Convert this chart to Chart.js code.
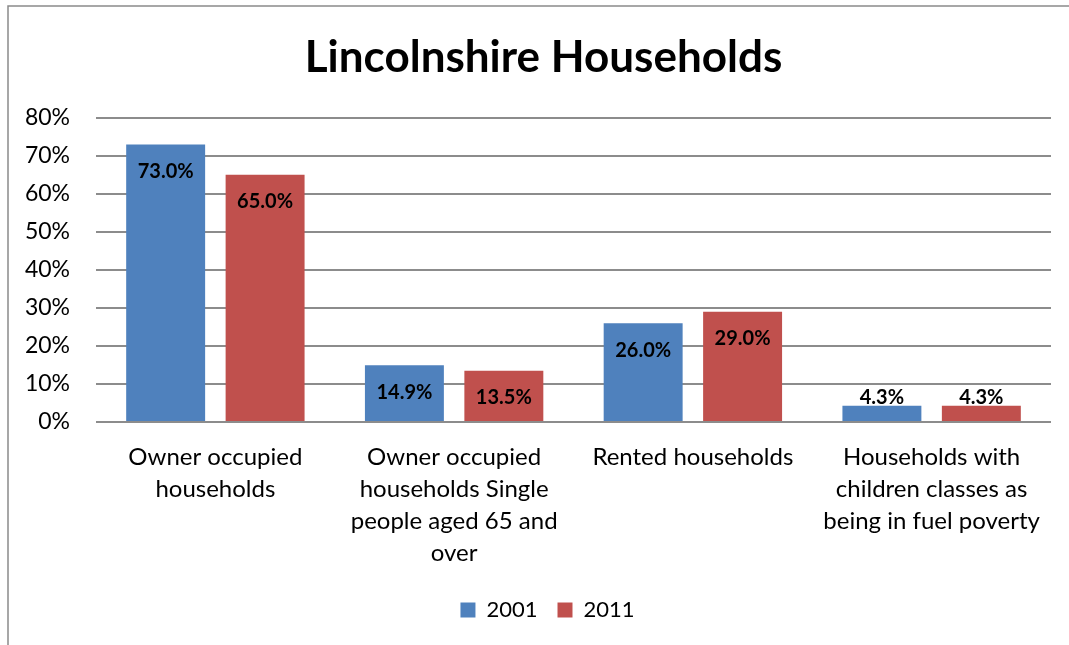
<!DOCTYPE html>
<html>
<head>
<meta charset="utf-8">
<script src="https://cdn.jsdelivr.net/npm/chart.js@4.4.1/dist/chart.umd.min.js"></script>
<style>
  body { margin: 0; background: #fff; }
  #wrap { position: relative; width: 1069px; height: 645px; }
</style>
</head>
<body>
<div id="wrap"><canvas id="myChart"></canvas></div>
<script>
// data
const categories = [
    ["Owner occupied", "households"],
    ["Owner occupied", "households Single", "people aged 65 and", "over"],
    ["Rented households"],
    ["Households with", "children classes as", "being in fuel poverty"]
]
const seriesNames = ["2001", "2011"]
const values2001 = [73.0, 14.9, 26.0, 4.3]
const values2011 = [65.0, 13.5, 29.0, 4.3]
const yTicks = [0, 10, 20, 30, 40, 50, 60, 70, 80]

const FONT = "Lato, 'Open Sans', sans-serif"

// frame round the chart (left and top edges only visible)
const framePlugin = {
    id: 'frame',
    afterLayout(chart) {
        // title and legend sit a little right of the canvas centre
        if (chart.titleBlock) chart.titleBlock.left = 36
        if (chart.legend) chart.legend.left = 44
    },
    beforeDraw(chart) {
        let ctx = chart.ctx
        ctx.save()
        ctx.strokeStyle = '#8a8a8a'
        ctx.lineWidth = 1.5
        ctx.beginPath()
        ctx.moveTo(8, chart.height)
        ctx.lineTo(8, 6)
        ctx.lineTo(chart.width, 6)
        ctx.stroke()
        ctx.restore()
    }
}

// value labels, inside the top of the bar or just above when the bar is short
const valueLabels = {
    id: 'valueLabels',
    afterDatasetsDraw(chart) {
        let ctx = chart.ctx
        ctx.save()
        ctx.font = "bold 20px " + FONT
        ctx.fillStyle = '#000'
        ctx.textAlign = 'center'
        ctx.textBaseline = 'middle'
        chart.data.datasets.forEach((ds, i) => {
            let meta = chart.getDatasetMeta(i)
            meta.data.forEach((bar, j) => {
                let txt = ds.data[j].toFixed(1) + '%'
                let h = bar.base - bar.y
                let y = h > 40 ? bar.y + 27 : bar.y - 8
                ctx.fillText(txt, bar.x, y)
            })
        })
        ctx.restore()
    }
}

const ctx = document.getElementById('myChart')
const myChart = new Chart(ctx, {
    type: 'bar',
    data: {
        labels: categories,
        datasets: [
            { label: seriesNames[0], data: values2001, backgroundColor: '#4F81BD' },
            { label: seriesNames[1], data: values2011, backgroundColor: '#C0504D' }
        ]
    },
    options: {
        responsive: true,
        maintainAspectRatio: false,
        animation: false,
        categoryPercentage: 0.833,
        barPercentage: 0.794,
        layout: { padding: { top: 0, right: 18, bottom: 14, left: 0 } },
        plugins: {
            title: {
                display: true,
                text: 'Lincolnshire Households',
                color: '#000',
                font: { family: FONT, size: 44, weight: 'bold', lineHeight: 1.2 },
                padding: { top: 31, bottom: 34 }
            },
            legend: {
                position: 'bottom',
                labels: {
                    color: '#000',
                    font: { family: FONT, size: 22 },
                    boxWidth: 15,
                    boxHeight: 15,
                    padding: 20
                }
            },
            tooltip: { enabled: false }
        },
        scales: {
            x: {
                grid: { display: false, drawTicks: false },
                border: { display: false },
                ticks: {
                    color: '#000',
                    font: { family: FONT, size: 24, lineHeight: 1.333 },
                    padding: 19,
                    maxRotation: 0,
                    autoSkip: false
                },
                afterFit: scale => { scale.height = 157 }
            },
            y: {
                min: 0,
                max: 80,
                afterBuildTicks: scale => { scale.ticks = yTicks.map(v => ({ value: v })) },
                grid: { color: '#8c8c8c', lineWidth: 2, drawTicks: false },
                border: { display: false },
                ticks: {
                    color: '#000',
                    font: { family: FONT, size: 23 },
                    padding: 26,
                    callback: v => v + '%'
                },
                afterFit: scale => { scale.width = 96 }
            }
        }
    },
    plugins: [framePlugin, valueLabels]
})
</script>
</body>
</html>
